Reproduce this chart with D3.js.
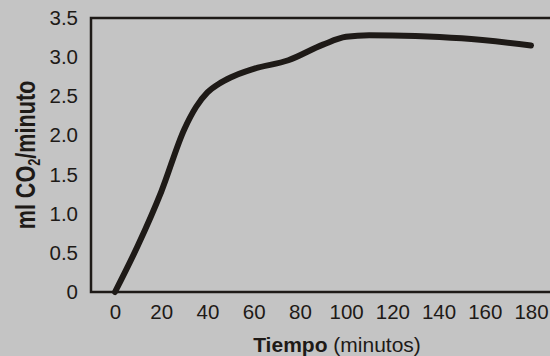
<!DOCTYPE html>
<html>
<head>
<meta charset="utf-8">
<script src="https://cdn.jsdelivr.net/npm/d3@7"></script>
<style>
  html, body { margin: 0; padding: 0; background: #c4c4c4; }
  svg { display: block; font-family: "Liberation Sans", Arial, sans-serif; }
</style>
</head>
<body>
<div id="chart"></div>
<script>
// tiempo (minutos) vs ml CO2/minuto
const tiempo = [0, 10, 20, 30, 35, 40, 45, 50, 60, 75, 90, 100, 110, 130, 150, 180]
const co2 = [0, 0.6, 1.28, 2.08, 2.36, 2.55, 2.66, 2.74, 2.85, 2.96, 3.16, 3.26, 3.28, 3.27, 3.24, 3.15]
const xTicks = [0, 20, 40, 60, 80, 100, 120, 140, 160, 180]
const yTicks = [0, 0.5, 1, 1.5, 2, 2.5, 3, 3.5]

const width = 550
const height = 356
const margin = { top: 18, right: 0, bottom: 64, left: 91 }
const ink = '#1e1a17'

const svg = d3.select('#chart')
  .append('svg')
  .attr('width', width)
  .attr('height', height)

svg.append('rect')
  .attr('width', width)
  .attr('height', height)
  .style('fill', '#c4c4c4')

const x = d3.scaleLinear().domain([0, 180]).range([115, 531])
const y = d3.scaleLinear().domain([0, 3.5]).range([height - margin.bottom, margin.top])

// frame: top, left, bottom
svg.append('path')
  .attr('d', `M${width},${y(3.5)}H${margin.left}V${y(0)}H${width}`)
  .style('stroke', ink)
  .style('stroke-width', 2.5)
  .style('fill', 'none')

// y axis
const yAxis = svg.append('g')
  .attr('transform', `translate(${margin.left},0)`)
  .call(d3.axisLeft(y)
    .tickValues(yTicks)
    .tickSize(0)
    .tickPadding(13)
    .tickFormat(d => d === 0 ? '0' : d3.format('.1f')(d)))

yAxis.select('.domain').remove()
yAxis.selectAll('text')
  .style('font-size', '20.5px')
  .style('fill', ink)
  .style('font-family', '"Liberation Sans", Arial, sans-serif')

// x axis
const xAxis = svg.append('g')
  .attr('transform', `translate(0,${y(0)})`)
  .call(d3.axisBottom(x)
    .tickValues(xTicks)
    .tickSize(0)
    .tickPadding(12)
    .tickFormat(d3.format('d')))

xAxis.select('.domain').remove()
xAxis.selectAll('text')
  .style('font-size', '20.5px')
  .style('fill', ink)
  .style('font-family', '"Liberation Sans", Arial, sans-serif')

// axis titles
const xTitle = svg.append('text')
  .attr('x', 337)
  .attr('y', 352)
  .attr('text-anchor', 'middle')
  .style('font-size', '21px')
  .style('fill', ink)
xTitle.append('tspan').style('font-weight', 'bold').text('Tiempo')
xTitle.append('tspan').text(' (minutos)')

const yTitle = svg.append('text')
  .attr('transform', `translate(35,${(y(0) + y(3.5)) / 2}) rotate(-90) scale(0.8,1)`)
  .attr('text-anchor', 'middle')
  .style('font-size', '27px')
  .style('font-weight', 'bold')
  .style('fill', ink)
yTitle.append('tspan').text('ml CO')
yTitle.append('tspan').attr('dy', 5).style('font-size', '16px').text('2')
yTitle.append('tspan').attr('dy', -5).text('/minuto')

// curve
const line = d3.line()
  .x((d, i) => x(tiempo[i]))
  .y(d => y(d))
  .curve(d3.curveMonotoneX)

svg.append('path')
  .datum(co2)
  .attr('d', line)
  .style('fill', 'none')
  .style('stroke', ink)
  .style('stroke-width', 6)
  .style('stroke-linecap', 'round')
  .style('stroke-linejoin', 'round')
</script>
</body>
</html>
